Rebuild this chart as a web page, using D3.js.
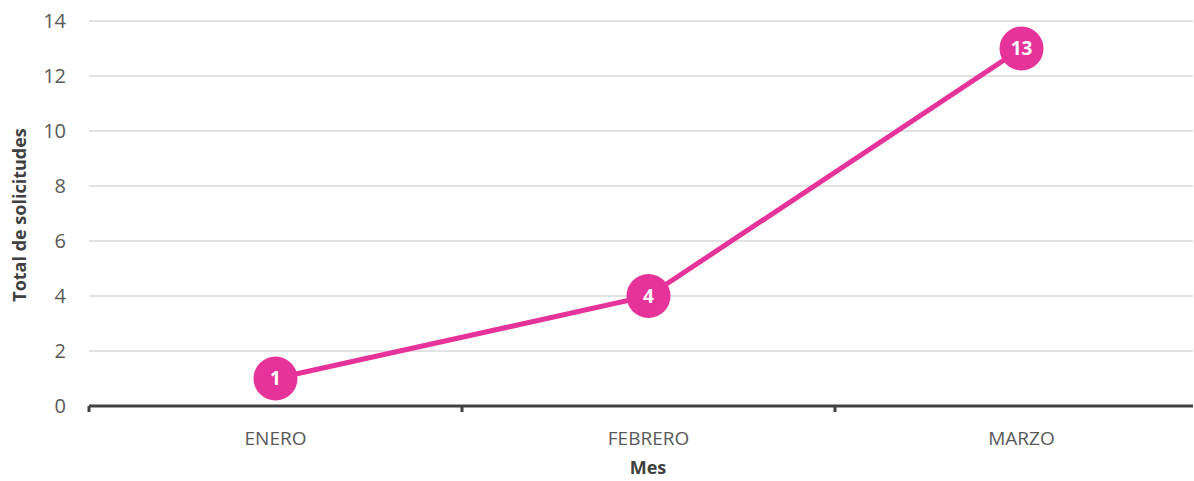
<!DOCTYPE html>
<html>
<head>
<meta charset="utf-8">
<script src="https://cdn.jsdelivr.net/npm/d3@7"></script>
<style>
  body { margin: 0; background: #fff; }
  text { font-family: "Open Sans", "Noto Sans", sans-serif; }
</style>
</head>
<body>
<div id="chart"></div>
<script>
// data
var months = ["ENERO", "FEBRERO", "MARZO"];
var totals = [1, 4, 13];
var yTicks = [0, 2, 4, 6, 8, 10, 12, 14];

var svgWidth = 1194;
var svgHeight = 481;

var svg = d3.select("#chart")
    .append("svg")
    .attr("width", svgWidth)
    .attr("height", svgHeight);

var plotLeft = 89, plotRight = 1193;

// x band scale (last band runs off the right edge)
var x = d3.scaleBand()
    .domain(months)
    .range([89, 1208]);

var y = d3.scaleLinear()
    .domain([0, 14])
    .range([406, 21]);

// gridlines
svg.append("g")
    .selectAll("line")
    .data(yTicks.filter(d => d > 0))
    .enter()
    .append("line")
    .attr("x1", plotLeft)
    .attr("x2", plotRight)
    .attr("y1", d => y(d))
    .attr("y2", d => y(d))
    .attr("stroke", "#d9d9d9")
    .attr("stroke-width", 1.5);

// y tick labels
svg.append("g")
    .selectAll("text")
    .data(yTicks)
    .enter()
    .append("text")
    .attr("x", 66)
    .attr("y", d => y(d))
    .attr("dy", "0.35em")
    .attr("text-anchor", "end")
    .attr("fill", "#595959")
    .style("font-size", "20px")
    .text(d => d);

// x axis line
svg.append("line")
    .attr("x1", plotLeft)
    .attr("x2", plotRight)
    .attr("y1", y(0))
    .attr("y2", y(0))
    .attr("stroke", "#404040")
    .attr("stroke-width", 3);

// tick marks at band edges
svg.append("g")
    .selectAll("line")
    .data(months)
    .enter()
    .append("line")
    .attr("x1", d => x(d))
    .attr("x2", d => x(d))
    .attr("y1", y(0))
    .attr("y2", y(0) + 6)
    .attr("stroke", "#404040")
    .attr("stroke-width", 3);

// x labels
svg.append("g")
    .selectAll("text")
    .data(months)
    .enter()
    .append("text")
    .attr("x", d => x(d) + x.bandwidth() / 2)
    .attr("y", 445)
    .attr("text-anchor", "middle")
    .attr("fill", "#595959")
    .style("font-size", "19px")
    .text(d => d);

// axis titles
svg.append("text")
    .attr("x", 648)
    .attr("y", 474)
    .attr("text-anchor", "middle")
    .attr("fill", "#404040")
    .style("font-size", "18px")
    .style("font-weight", "bold")
    .text("Mes");

svg.append("text")
    .attr("transform", "translate(26, 215) rotate(-90)")
    .attr("text-anchor", "middle")
    .attr("fill", "#404040")
    .style("font-size", "18px")
    .style("font-weight", "bold")
    .text("Total de solicitudes");

// line
var pts = months.map((m, i) => ({ m: m, v: totals[i] }));
var line = d3.line()
    .x(d => x(d.m) + x.bandwidth() / 2)
    .y(d => y(d.v));

svg.append("path")
    .datum(pts)
    .attr("d", line)
    .attr("fill", "none")
    .attr("stroke", "#e6339a")
    .attr("stroke-width", 5);

svg.append("g")
    .selectAll("circle")
    .data(pts)
    .enter()
    .append("circle")
    .attr("cx", d => x(d.m) + x.bandwidth() / 2)
    .attr("cy", d => y(d.v))
    .attr("r", 22)
    .attr("fill", "#e6339a");

svg.append("g")
    .selectAll("text")
    .data(pts)
    .enter()
    .append("text")
    .attr("x", d => x(d.m) + x.bandwidth() / 2)
    .attr("y", d => y(d.v))
    .attr("dy", "0.36em")
    .attr("text-anchor", "middle")
    .attr("fill", "#fff")
    .style("font-size", "19px")
    .style("font-weight", "bold")
    .text(d => d.v);
</script>
</body>
</html>
